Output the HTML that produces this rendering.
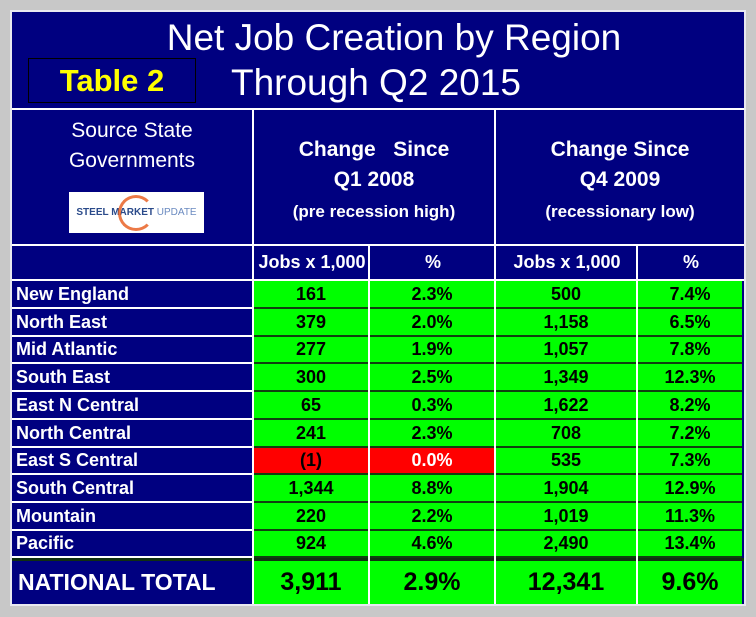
<!DOCTYPE html>
<html><head><style>
body{margin:0;width:756px;height:617px;background:#c8c8c8;position:relative;overflow:hidden;font-family:"Liberation Sans",Arial,sans-serif}
div{position:absolute;box-sizing:border-box}
.frame{left:10px;top:10px;width:736px;height:596px;background:#000080;border:2px solid #e8e8f0}
.t{color:#fff;text-align:center;white-space:nowrap}
.c{display:flex;align-items:center;justify-content:center;font-weight:bold;font-size:18px;color:#000}
.g{background:#00ff00}
.r{background:#ff0000}
.lab{color:#fff;font-weight:bold;font-size:18px;padding-left:4px;display:flex;align-items:center;background:#000080}
.hl{background:#fff}
</style></head><body>
<div class="frame"></div>
<div class="t" style="left:12px;top:17px;width:732px;font-size:37px;padding-left:32px">Net Job Creation by Region</div>
<div class="t" style="left:216px;top:62px;width:320px;font-size:37px">Through Q2 2015</div>
<div style="left:28px;top:58px;width:168px;height:45px;border:1px solid #000;color:#ffff00;font-weight:bold;font-size:31px;text-align:center;line-height:43px">Table 2</div>
<div class="hl" style="left:12px;top:108px;width:732px;height:2px"></div>
<div class="hl" style="left:12px;top:244px;width:732px;height:2px"></div>
<div class="hl" style="left:252px;top:110px;width:2px;height:134px"></div>
<div class="hl" style="left:494px;top:110px;width:2px;height:134px"></div>
<div class="t" style="left:12px;top:116px;width:240px;font-size:21px;line-height:30px">Source State<br>Governments</div>
<div style="left:69px;top:192px;width:135px;height:41px;background:#fff;font-size:10px;font-weight:bold;color:#2a4a8a;display:flex;align-items:center;justify-content:center">STEEL MARKET <span style="font-weight:normal;color:#6a8ac0">&nbsp;UPDATE</span></div>
<div style="left:118px;top:195px;width:36px;height:36px;border:3px solid #e85a1a;border-radius:50%;border-right-color:transparent;opacity:.8"></div>
<div class="t" style="left:254px;top:135px;width:240px;font-size:21px;font-weight:bold;line-height:30px">Change &nbsp; Since<br>Q1 2008</div>
<div class="t" style="left:254px;top:202px;width:240px;font-size:17px;font-weight:bold">(pre recession high)</div>
<div class="t" style="left:496px;top:135px;width:248px;font-size:21px;font-weight:bold;line-height:30px">Change Since<br>Q4 2009</div>
<div class="t" style="left:496px;top:202px;width:248px;font-size:17px;font-weight:bold">(recessionary low)</div>
<div id="tb"></div>
<script>
const rows=[["New England","161","2.3%","500","7.4%"],["North East","379","2.0%","1,158","6.5%"],["Mid Atlantic","277","1.9%","1,057","7.8%"],["South East","300","2.5%","1,349","12.3%"],["East N Central","65","0.3%","1,622","8.2%"],["North Central","241","2.3%","708","7.2%"],["East S Central","(1)","0.0%","535","7.3%"],["South Central","1,344","8.8%","1,904","12.9%"],["Mountain","220","2.2%","1,019","11.3%"],["Pacific","924","4.6%","2,490","13.4%"]];
const xs=[12,254,370,496,638,744];
let h='';
function cell(x,y,w,hh,cls,txt,st){h+=`<div class="${cls}" style="left:${x}px;top:${y}px;width:${w}px;height:${hh}px;${st||''}">${txt}</div>`}
h+=`<div class="hl" style="left:12px;top:279px;width:732px;height:2px"></div>`;
["","Jobs x 1,000","%","Jobs x 1,000","%"].forEach((t,i)=>{cell(xs[i],246,xs[i+1]-xs[i],33,"c t",t,"color:#fff;font-size:18px")});
const b=[281,309,337,364,392,420,448,475,503,531,558];
rows.forEach((r,j)=>{const y=b[j],hh=b[j+1]-b[j];
cell(12,y,240,hh-2,"lab",r[0]);
for(let i=1;i<5;i++){let red=(j==6&&i<3);cell(xs[i],y,xs[i+1]-xs[i]-2,hh,"c "+(red?"r":"g"),r[i],(red&&i==2?"color:#fff;":"")+"border-bottom:2px solid #104010")}
h+=`<div class="hl" style="left:12px;top:${y+hh-2}px;width:240px;height:2px"></div>`;
});
h+=`<div style="left:12px;top:558px;width:732px;height:3px;background:#103010"></div>`;
cell(12,561,240,43,"lab","NATIONAL TOTAL","font-size:23px;padding-left:6px");
["3,911","2.9%","12,341","9.6%"].forEach((t,k)=>{let i=k+1;cell(xs[i],561,xs[i+1]-xs[i]-2,43,"c g",t,"font-size:25px")});
[252,368,494,636].forEach(x=>h+=`<div class="hl" style="left:${x}px;top:246px;width:2px;height:358px"></div>`);
document.getElementById('tb').outerHTML=h;
</script>
</body></html>
